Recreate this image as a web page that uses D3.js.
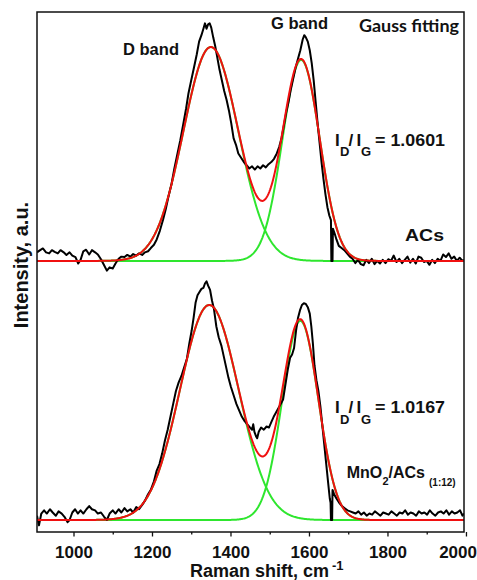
<!DOCTYPE html>
<html>
<head>
<meta charset="utf-8">
<script src="https://cdn.jsdelivr.net/npm/d3@7"></script>
<style>
body { margin: 0; background: #fff; }
text { font-family: "Liberation Sans", Arial, Helvetica, sans-serif; font-weight: bold; fill: #111; }
</style>
</head>
<body>
<div id="chart"></div>
<script>
// measured Raman spectrum, ACs (upper trace)
var acsShift = [
  907,915,922,930,938,945,952,960,967,975,
  982,990,997,1005,1012,1018,1025,1032,1040,1047,
  1055,1062,1070,1078,1085,1092,1100,1107,1115,1122,
  1130,1137,1145,1152,1160,1167,1175,1182,1190,1197,
  1205,1212,1220,1228,1235,1242,1250,1257,1265,1272,
  1280,1287,1293,1300,1307,1314,1320,1326,1331,1335,
  1339,1343,1347,1351,1356,1361,1366,1372,1378,1384,
  1390,1396,1402,1408,1414,1420,1427,1434,1441,1448,
  1455,1462,1469,1476,1483,1490,1497,1504,1511,1518,
  1524,1530,1536,1542,1548,1554,1560,1566,1572,1578,
  1584,1588,1592,1597,1602,1607,1612,1617,1622,1627,
  1632,1637,1642,1647,1652,1656,1657,1660,1661,1665,
  1670,1676,1683,1690,1697,1704,1711,1718,1725,1732,
  1739,1746,1753,1760,1767,1774,1781,1788,1795,1802,
  1809,1816,1823,1830,1837,1844,1851,1858,1865,1872,
  1879,1886,1893,1900,1907,1914,1921,1928,1935,1942,
  1949,1956,1963,1970,1977,1984,1991,1995
];
var acsIntensity = [
  0.04,0.05,0.058,0.04,0.035,0.05,0.042,0.035,0.05,0.04,
  0.028,0.04,0.025,0.018,-0.012,0.005,0.045,0.052,0.03,0.05,
  0.04,0.03,0.008,-0.02,-0.045,-0.03,-0.035,-0.012,0.01,0.02,
  0.018,0.028,0.02,0.032,0.025,0.035,0.028,0.04,0.045,0.06,
  0.075,0.1,0.14,0.19,0.24,0.3,0.36,0.43,0.5,0.56,
  0.64,0.71,0.78,0.84,0.9,0.96,1.02,1.05,1.08,1.105,
  1.08,1.1,1.105,1.085,1.04,1.0,0.95,0.89,0.84,0.79,
  0.75,0.7,0.64,0.57,0.54,0.5,0.48,0.46,0.445,0.43,
  0.44,0.425,0.44,0.43,0.445,0.435,0.45,0.46,0.475,0.5,
  0.53,0.57,0.63,0.69,0.74,0.8,0.85,0.9,0.94,0.98,
  1.03,1.05,1.04,1.02,0.98,0.92,0.84,0.74,0.64,0.55,
  0.46,0.38,0.31,0.25,0.21,0.19,0,0,0.15,0.13,
  0.1,0.07,0.06,0.05,0.035,0.02,0.01,-0.01,0.005,-0.015,
  -0.02,0.005,-0.01,0.01,-0.015,0,-0.012,0.005,-0.01,0.008,
  0,0.025,-0.005,0.01,-0.01,0.005,0.02,-0.008,0.01,-0.012,
  0.02,0.015,-0.005,0,-0.018,0.005,-0.01,0.01,0,0.03,
  0.018,0.035,0.01,0.02,0,0.015,0,0.005
];

// measured Raman spectrum, MnO2/ACs(1:12) (lower trace)
var mnoShift = [
  907,912,918,925,932,940,947,955,962,970,
  977,985,990,997,1004,1011,1018,1025,1033,1040,
  1047,1055,1062,1070,1078,1085,1092,1100,1107,1115,
  1122,1130,1137,1145,1152,1160,1167,1175,1182,1190,
  1197,1205,1212,1219,1226,1233,1240,1247,1254,1261,
  1268,1275,1282,1289,1295,1301,1306,1311,1316,1321,
  1326,1331,1335,1339,1343,1348,1353,1358,1364,1370,
  1377,1383,1389,1395,1401,1408,1415,1422,1429,1436,
  1443,1450,1455,1458,1461,1465,1468,1472,1478,1485,
  1492,1498,1504,1510,1516,1522,1528,1534,1540,1546,
  1552,1557,1562,1567,1572,1577,1582,1587,1592,1597,
  1602,1606,1610,1614,1619,1624,1629,1634,1639,1644,
  1649,1653,1655,1656,1659,1660,1664,1670,1677,1684,
  1691,1698,1705,1712,1719,1726,1733,1740,1747,1754,
  1761,1768,1775,1782,1789,1796,1803,1810,1817,1824,
  1831,1838,1845,1852,1859,1866,1873,1880,1887,1894,
  1901,1908,1915,1922,1929,1936,1943,1950,1957,1964,
  1971,1978,1985,1991,1995
];
var mnoIntensity = [
  0.02,-0.025,0.03,0.045,0.03,0.05,0.035,0.02,0.04,0.03,
  0.015,-0.01,0,0.035,0.05,0.03,0.045,0.03,0.05,0.065,
  0.05,0.045,0.03,0.035,0.015,0,0.03,0.045,0.03,0.05,
  0.035,0.055,0.04,0.05,0.035,0.06,0.05,0.07,0.09,0.12,
  0.14,0.18,0.23,0.26,0.31,0.37,0.42,0.48,0.54,0.6,
  0.64,0.67,0.71,0.75,0.82,0.88,0.94,1.01,1.045,1.06,
  1.075,1.08,1.1,1.11,1.09,1.07,1.02,0.98,0.9,0.85,
  0.81,0.76,0.71,0.66,0.62,0.58,0.54,0.51,0.48,0.46,
  0.445,0.43,0.42,0.445,0.41,0.39,0.38,0.41,0.43,0.42,
  0.435,0.43,0.455,0.48,0.5,0.52,0.54,0.56,0.63,0.7,
  0.755,0.77,0.8,0.88,0.94,0.975,1.0,1.008,1.005,0.99,
  0.96,0.9,0.82,0.72,0.65,0.6,0.53,0.44,0.35,0.26,
  0.17,0.1,0.08,0,0,0.14,0.12,0.1,0.08,0.065,
  0.055,0.045,0.04,0.035,0.03,0.04,0.025,0.035,0.02,0.03,
  0.025,0.04,0.03,0.02,0.035,0.03,0.025,0.04,0.03,0.02,
  0.035,0.03,0.045,0.025,0.035,0.03,0.02,0.04,0.03,0.035,
  0.025,0.045,0.03,0.02,0.035,0.04,0.03,0.045,0.025,0.04,
  0.03,0.035,0.045,0.02,0.03
];

// Gauss fitting parameters: [D band, G band]
var acsFitCenter = [1350, 1580];
var acsFitSigma = [70, 47.5];
var acsFitHeight = [0.995, 0.935];
var mnoFitCenter = [1346, 1578];
var mnoFitSigma = [74.7, 46];
var mnoFitHeight = [1.0, 0.926];

// vertical stacking of the two traces (a.u.)
var traceOffset = [1.205, 0];

var xTicks = [1000, 1200, 1400, 1600, 1800, 2000];
var xMinorTicks = [1100, 1300, 1500, 1700, 1900];
var ratioValues = ["1.0601", "1.0167"];

var svgWidth = 477;
var svgHeight = 580;
var margin = { top: 12, right: 13, bottom: 48, left: 37 };
var width = svgWidth - margin.left - margin.right;
var height = svgHeight - margin.top - margin.bottom;

var svg = d3.select("#chart")
  .append("svg")
  .attr("width", svgWidth)
  .attr("height", svgHeight);

var chartGroup = svg.append("g")
  .attr("transform", `translate(${margin.left}, ${margin.top})`);

var xScale = d3.scaleLinear().domain([907, 1995]).range([0, width]);
var yScale = d3.scaleLinear().domain([-0.0558, 2.3628]).range([height, 0]);

// evaluation grid for the fitted Gaussians
var fitGrid = d3.range(907, 1996, 2);

function gauss(w, c, s, h) {
  return h * Math.exp(-(w - c) * (w - c) / (2 * s * s));
}

function zipped(xs, ys) {
  return xs.map((w, i) => [w, ys[i]]);
}

var traces = [
  { shift: acsShift, inten: acsIntensity, c: acsFitCenter, s: acsFitSigma, h: acsFitHeight, off: traceOffset[0] },
  { shift: mnoShift, inten: mnoIntensity, c: mnoFitCenter, s: mnoFitSigma, h: mnoFitHeight, off: traceOffset[1] }
];

chartGroup.append("clipPath").attr("id", "plotclip")
  .append("rect").attr("width", width).attr("height", height);

var plot = chartGroup.append("g").attr("clip-path", "url(#plotclip)");

traces.forEach(function(t) {
  var line = d3.line()
    .x(d => xScale(d[0]))
    .y(d => yScale(d[1] + t.off));

  // green: single components
  [0, 1].forEach(function(k) {
    var comp = fitGrid.map(w => [w, gauss(w, t.c[k], t.s[k], t.h[k])]);
    plot.append("path")
      .datum(comp)
      .attr("d", line)
      .attr("fill", "none")
      .attr("stroke", "#2ee62e")
      .attr("stroke-width", 2);
  });

  // black: measured
  plot.append("path")
    .datum(zipped(t.shift, t.inten))
    .attr("d", line)
    .attr("fill", "none")
    .attr("stroke", "#000")
    .attr("stroke-width", 2)
    .attr("stroke-linejoin", "round");

  // red: cumulative fit
  var sum = fitGrid.map(w => [w, gauss(w, t.c[0], t.s[0], t.h[0]) + gauss(w, t.c[1], t.s[1], t.h[1])]);
  plot.append("path")
    .datum(sum)
    .attr("d", line)
    .attr("fill", "none")
    .attr("stroke", "#f01010")
    .attr("stroke-width", 2);
});

// frame
chartGroup.append("rect")
  .attr("width", width)
  .attr("height", height)
  .attr("fill", "none")
  .attr("stroke", "#111")
  .attr("stroke-width", 1.5);

// x axis
var xAxis = d3.axisBottom(xScale).tickValues(xTicks).tickSize(4.5).tickPadding(9).tickFormat(d3.format("d"));
var axisG = chartGroup.append("g")
  .attr("transform", `translate(0, ${height})`)
  .call(xAxis);
axisG.attr("font-family", null).attr("font-size", null);
axisG.select(".domain").remove();
axisG.selectAll("line").attr("stroke", "#111").attr("stroke-width", 1.3);
axisG.selectAll("text")
  .attr("fill", "#111")
  .style("font-size", "17px");
// last label would run past the page edge, keep it inside
axisG.selectAll(".tick text")
  .filter(d => d === 2000)
  .attr("text-anchor", "end")
  .attr("x", 10.5);

var minorG = chartGroup.append("g")
  .attr("transform", `translate(0, ${height})`)
  .call(d3.axisBottom(xScale).tickValues(xMinorTicks).tickSize(2.5).tickFormat(""));
minorG.select(".domain").remove();
minorG.selectAll("line").attr("stroke", "#111").attr("stroke-width", 1.3);

// axis titles
var xTitle = svg.append("text")
  .attr("x", 190)
  .attr("y", 577)
  .style("font-size", "18px");
xTitle.append("tspan").text("Raman shift, cm");
xTitle.append("tspan").attr("x", 332).attr("dy", -7).style("font-size", "13px").text("-1");

svg.append("text")
  .attr("transform", "translate(28, 265) rotate(-90)")
  .attr("text-anchor", "middle")
  .style("font-size", "20px")
  .text("Intensity, a.u.");

// annotations
function label(txt, x, y, size, len) {
  return svg.append("text")
    .attr("x", x).attr("y", y)
    .style("font-size", size + "px")
    .attr("textLength", len)
    .attr("lengthAdjust", "spacingAndGlyphs")
    .text(txt);
}

label("D band", 123, 55, 16.5, 56);
label("G band", 271, 28.5, 16.5, 57);
label("ACs", 405, 241, 17, 39);
label("Gauss fitting", 359, 31.5, 16.5, 100)
  .style("font-family", "Lato, 'Open Sans', sans-serif")
  .style("font-weight", "bold");

function ratioLabel(yBase, value) {
  var t = svg.append("text").attr("y", yBase).style("font-size", "17px");
  t.append("tspan").attr("x", 335).text("I");
  t.append("tspan").attr("x", 340).attr("y", yBase + 10.5).style("font-size", "13px").text("D");
  t.append("tspan").attr("x", 348.5).attr("y", yBase).text("/");
  t.append("tspan").attr("x", 356.5).attr("y", yBase).text("I");
  t.append("tspan").attr("x", 361).attr("y", yBase + 10.5).style("font-size", "13px").text("G");
  t.append("tspan").attr("x", 375).attr("y", yBase)
    .attr("textLength", 70).attr("lengthAdjust", "spacingAndGlyphs")
    .text("= " + value);
}
ratioLabel(145.5, ratioValues[0]);
ratioLabel(413.3, ratioValues[1]);

var mno = svg.append("text").attr("y", 478.3).style("font-size", "16px");
mno.append("tspan").attr("x", 346.7).text("MnO");
mno.append("tspan").attr("x", 382.5).attr("y", 485).style("font-size", "11px").text("2");
mno.append("tspan").attr("x", 388.5).attr("y", 478.3).text("/ACs");
mno.append("tspan").attr("x", 429).attr("y", 485.5).style("font-size", "10px").text("(1:12)");
</script>
</body>
</html>
